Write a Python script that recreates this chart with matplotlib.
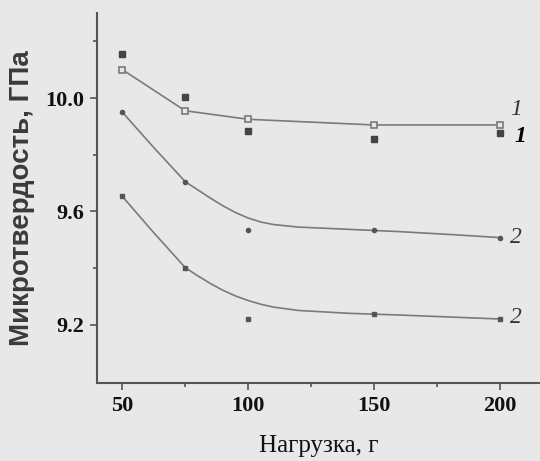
import numpy as np
import matplotlib.pyplot as plt

# load, g
load = [50, 75, 100, 150, 200]

# curve 1: open squares (joined), filled squares (points only)
hv_1_open = [10.10, 9.955, 9.925, 9.905, 9.905]
hv_1_fill = [10.155, 10.005, 9.885, 9.855, 9.875]

# curve 2: two sets of points with smooth trend lines
hv_2_upper = [9.95, 9.705, 9.533, 9.533, 9.508]
hv_2_lower = [9.653, 9.40, 9.22, 9.24, 9.22]

# trend lines
trend_x = [50, 62, 75, 80, 85, 90, 95, 100, 105, 110, 120, 140, 160, 180, 200]
trend_2_upper = [9.95, 9.83, 9.705, 9.676, 9.647, 9.620, 9.596, 9.577, 9.563, 9.554,
                 9.545, 9.537, 9.529, 9.519, 9.508]
trend_2_lower = [9.653, 9.53, 9.402, 9.373, 9.346, 9.322, 9.302, 9.286, 9.273, 9.263,
                 9.251, 9.241, 9.235, 9.228, 9.221]

bg = '#e8e8e8'
line_c = '#7a7a7a'
dark = '#444444'
serif = ['Liberation Serif', 'DejaVu Serif']

fig = plt.figure(figsize=(5.4, 4.61), dpi=100, facecolor=bg)
ax = fig.add_axes([0.18, 0.169, 0.82, 0.803])
ax.set_facecolor(bg)

ax.plot(load, hv_1_open, color=line_c, lw=1.2, marker='s', ms=5,
        mfc=bg, mec=line_c, mew=1.2)
ax.plot(load, hv_1_fill, ls='none', marker='s', ms=5, color=dark)

ax.plot(trend_x, trend_2_upper, color=line_c, lw=1.2)
ax.plot(load, hv_2_upper, ls='none', marker='o', ms=3, color='#555555')
ax.plot(trend_x, trend_2_lower, color=line_c, lw=1.2)
ax.plot(load, hv_2_lower, ls='none', marker='s', ms=3.5, color='#555555')

lab = dict(fontsize=17, family=serif, style='italic', color='#333333')
ax.text(204, 9.96, '1', va='center', **lab)
ax.text(206, 9.865, '1', va='center', color='black', fontsize=17,
        family=serif, style='italic', weight='bold')
ax.text(204, 9.508, '2', va='center', **lab)
ax.text(204, 9.225, '2', va='center', **lab)

ax.set_xlim(40, 216)
ax.set_ylim(8.995, 10.30)
ax.set_xticks([50, 100, 150, 200])
ax.set_xticks([75, 125, 175], minor=True)
ax.set_yticks([9.2, 9.6, 10.0])
ax.set_yticks([9.4, 9.8, 10.2], minor=True)
ax.set_yticklabels(['9.2', '9.6', '10.0'])

for side in ['top', 'right']:
    ax.spines[side].set_visible(False)
for side in ['left', 'bottom']:
    ax.spines[side].set_color('#555555')
    ax.spines[side].set_linewidth(1.5)

ax.tick_params(which='both', direction='out', color='#555555', width=1.2)
ax.tick_params(which='major', length=5, labelsize=16, pad=4)
ax.tick_params(which='minor', length=3)
for t in ax.get_xticklabels() + ax.get_yticklabels():
    t.set_family(serif)
    t.set_weight('bold')
    t.set_color('#111111')

ax.set_xlabel('Нагрузка, г', fontsize=18, family=serif, color='#111111', labelpad=14)
ax.set_ylabel('Микротвердость, ГПа', fontsize=20,
              family=['Liberation Sans', 'DejaVu Sans'], weight='bold',
              color='#3a3a3a', labelpad=8)

fig.savefig('out.png', dpi=100, facecolor=bg)
